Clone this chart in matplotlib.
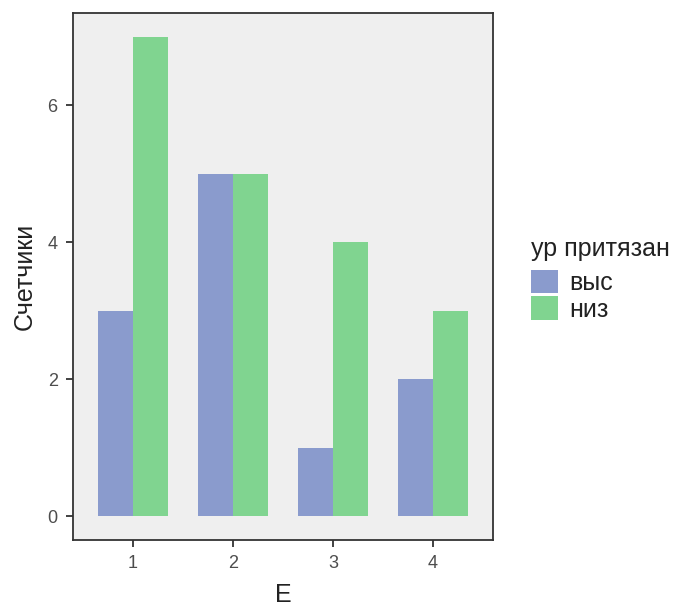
import numpy as np
import matplotlib
matplotlib.use('Agg')
import matplotlib.pyplot as plt
from matplotlib.patches import Patch

plt.rcParams['font.family'] = ['Liberation Sans', 'DejaVu Sans']

## Data
categories = ['1', '2', '3', '4']
groups = ['выс', 'низ']
vys = [3, 5, 1, 2]
niz = [7, 5, 4, 3]
colors = ['#8a9bcd', '#80d490']

fig = plt.figure(figsize=(6.78, 6.12), dpi=100)
ax = fig.add_axes([0.1077, 0.1176, 0.6195, 0.8611])
ax.set_facecolor('#efefef')

x = np.arange(1, len(categories) + 1)
w = 0.35
ax.bar(x - w / 2, vys, width=w, color=colors[0], linewidth=0)
ax.bar(x + w / 2, niz, width=w, color=colors[1], linewidth=0)

ax.set_xlim(0.4, 4.6)
ax.set_ylim(-0.35, 7.35)
ax.set_xticks(x)
ax.set_xticklabels(categories)
ax.set_yticks([0, 2, 4, 6])

for s in ax.spines.values():
    s.set_color('#333333')
    s.set_linewidth(1.3)
ax.tick_params(colors='#333333', labelcolor='#4d4d4d', labelsize=13, length=5, width=1.3, pad=6)

ax.set_xlabel('E', fontsize=18, color='#222222', labelpad=8)
ax.set_ylabel('Счетчики', fontsize=18, color='#222222', labelpad=8)

handles = [Patch(facecolor=c, edgecolor='none') for c in colors]
leg = fig.legend(handles, groups, title='ур притязан', loc='upper left',
                 bbox_to_anchor=(0.783, 0.612), frameon=False, fontsize=18,
                 title_fontsize=18, handlelength=1.08, handleheight=1.08,
                 handletextpad=0.45, labelspacing=0.05, borderaxespad=0,
                 borderpad=0)
leg._legend_box.align = 'left'
leg._legend_box.sep = 6
for t in leg.get_texts():
    t.set_color('#222222')
leg.get_title().set_color('#222222')

fig.savefig('out.png', dpi=100)
